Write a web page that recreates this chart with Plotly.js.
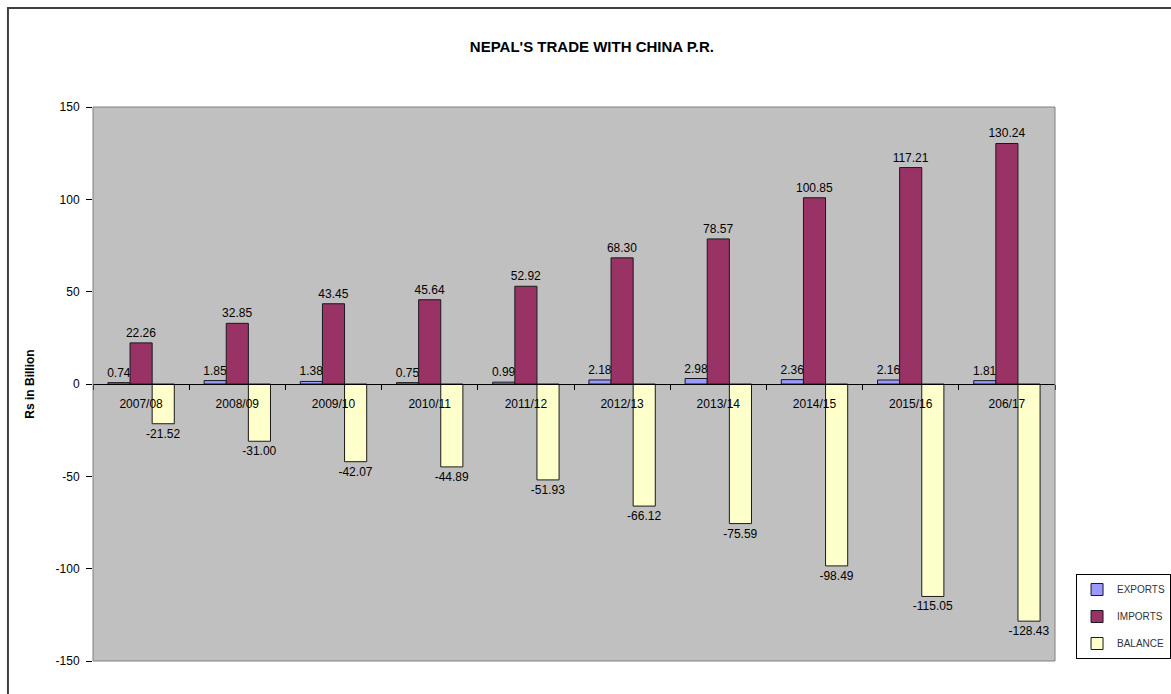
<!DOCTYPE html>
<html>
<head>
<meta charset="utf-8">
<script src="https://cdn.plot.ly/plotly-3.0.1.min.js"></script>
<style>
  html, body { margin: 0; padding: 0; background: #fff; }
  #chart { width: 1171px; height: 694px; }
</style>
</head>
<body>
<div id="chart"></div>
<script>
const categories = ["2007/08", "2008/09", "2009/10", "2010/11", "2011/12", "2012/13", "2013/14", "2014/15", "2015/16", "206/17"];
const exportsVals = [0.74, 1.85, 1.38, 0.75, 0.99, 2.18, 2.98, 2.36, 2.16, 1.81];
const importsVals = [22.26, 32.85, 43.45, 45.64, 52.92, 68.30, 78.57, 100.85, 117.21, 130.24];
const balanceVals = [-21.52, -31.00, -42.07, -44.89, -51.93, -66.12, -75.59, -98.49, -115.05, -128.43];
const seriesNames = ["EXPORTS", "IMPORTS", "BALANCE"];
const yTicks = [-150, -100, -50, 0, 50, 100, 150];

const FONT = "Liberation Sans, Arial, sans-serif";
const colors = ["#9999FF", "#993366", "#FFFFCC"];
const vals = [exportsVals, importsVals, balanceVals];

const traces = vals.map((v, i) => ({
  type: "bar",
  name: seriesNames[i],
  legendgroup: "g" + i,
  x: categories,
  y: v,
  marker: { color: colors[i], line: { color: "#1a1a1a", width: 1 } },
  text: v.map(d => d.toFixed(2)),
  texttemplate: "%{text}",
  textposition: "outside",
  constraintext: "none",
  cliponaxis: false,
  textfont: { family: FONT, size: 12, color: "#000" },
  hoverinfo: "x+y+name"
}));

const layout = {
  width: 1171,
  height: 694,
  margin: { l: 93, r: 116, t: 107, b: 33 },
  paper_bgcolor: "#ffffff",
  plot_bgcolor: "#C0C0C0",
  barmode: "group",
  bargap: 0.31,
  bargroupgap: 0,
  font: { family: FONT, size: 12, color: "#000" },
  title: {
    text: "<b>NEPAL'S TRADE WITH CHINA P.R.</b>",
    font: { family: FONT, size: 15, color: "#000" },
    xref: "container", x: 0.5055, xanchor: "center",
    yref: "container", y: 0.932, yanchor: "middle"
  },
  xaxis: {
    type: "category",
    anchor: "free",
    position: 0.5,
    showline: true,
    linecolor: "#000",
    linewidth: 1,
    ticks: "outside",
    tickson: "boundaries",
    ticklen: 5,
    tickcolor: "#000",
    showgrid: false,
    zeroline: false,
    ticklabelstandoff: 9,
    tickfont: { family: FONT, size: 12, color: "#000" }
  },
  yaxis: {
    range: [-150, 150],
    tickvals: yTicks,
    ticktext: yTicks.map(String),
    showline: false,
    ticks: "outside",
    ticklen: 6,
    tickcolor: "#000",
    showgrid: false,
    zeroline: false,
    ticklabelstandoff: 4,
    tickfont: { family: FONT, size: 12, color: "#000" },
    title: {
      text: "<b>Rs in Billion</b>",
      font: { family: FONT, size: 12, color: "#000" },
      standoff: 18
    },
    automargin: false
  },
  showlegend: true,
  legend: {
    xref: "container", x: 0.9189, xanchor: "left",
    yref: "container", y: 0.0504, yanchor: "bottom",
    bgcolor: "#ffffff",
    bordercolor: "#000",
    borderwidth: 1,
    font: { family: FONT, size: 10, color: "#333" },
    traceorder: "grouped",
    tracegroupgap: 8,
    itemwidth: 30
  },
  shapes: [
    {
      type: "rect", xref: "paper", yref: "paper",
      x0: 0, x1: 1, y0: 0, y1: 1,
      line: { color: "#808080", width: 1 }, fillcolor: "rgba(0,0,0,0)", layer: "above"
    },
    {
      type: "rect", xref: "paper", yref: "paper",
      x0: -0.0884, x1: 1.3, y0: -0.2, y1: 1.1787,
      line: { color: "#404040", width: 2 }, fillcolor: "rgba(0,0,0,0)"
    }
  ]
};

Plotly.newPlot("chart", traces, layout, { displayModeBar: false, staticPlot: true });
</script>
</body>
</html>
